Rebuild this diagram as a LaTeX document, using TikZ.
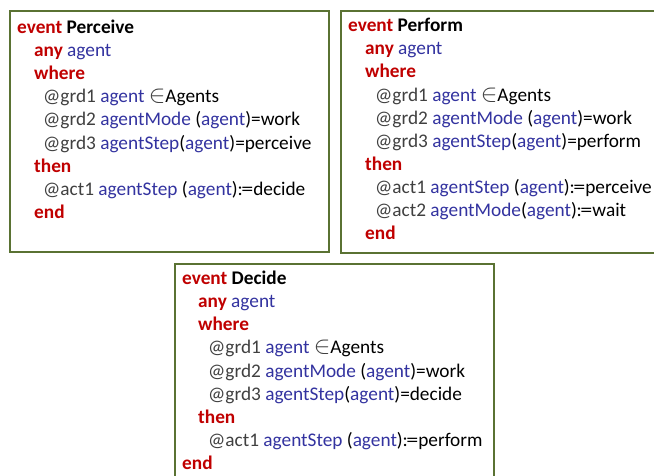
\documentclass[tikz,border=0pt]{standalone}
\usepackage{fontspec}
\setmainfont{Carlito}
\definecolor{kwred}{HTML}{C00000}
\definecolor{idblue}{HTML}{3333A0}
\definecolor{lblgray}{HTML}{404040}
\definecolor{frame}{HTML}{5A7233}
\newcommand\kw[1]{\textcolor{kwred}{\textbf{#1}}}
\newcommand\idn[1]{\textcolor{idblue}{#1}}
\newcommand\lbl[1]{\textcolor{lblgray}{#1}}
\newcommand\setin{\textcolor{lblgray}{\fontsize{23}{23}\selectfont$\in$}}
\newcommand\becomes{\kern-0.3pt:\kern-1.4pt\scalebox{1.25}[1]{=}}
\tikzset{
  evbox/.style={draw=frame, line width=2.4pt, fill=white, inner sep=0pt},
  txt/.style={anchor=base west, inner sep=0pt, font=\fontsize{19.3}{22}\selectfont}
}
\begin{document}
\begin{tikzpicture}[x=1pt,y=-1pt]
\useasboundingbox (0,0) rectangle (654,475);
% event boxes
\node[evbox, minimum width=319pt, minimum height=241pt, anchor=north west] (perceive) at (9,10) {};
\node[evbox, minimum width=320pt, minimum height=242pt, anchor=north west] (perform) at (340,10) {};
\node[evbox, minimum width=319pt, minimum height=230pt, anchor=north west] (decide) at (174,263) {};

% Perceive
\node[txt] (p1) at (17,33)    {\kw{event} \textbf{Perceive}};
\node[txt] (p2) at (34,56.2)  {\kw{any} \idn{agent}};
\node[txt] (p3) at (34,79.4)  {\kw{where}};
\node[txt] (p4) at (43,102.6) {\lbl{@grd1} \idn{agent} \setin Agents};
\node[txt] (p5) at (43,125.8) {\lbl{@grd2} \idn{agentMode} (\idn{agent})=work};
\node[txt] (p6) at (43,149)   {\lbl{@grd3} \idn{agentStep}(\idn{agent})=perceive};
\node[txt] (p7) at (34,172.2) {\kw{then}};
\node[txt] (p8) at (43,195.4) {\lbl{@act1} \idn{agentStep} (\idn{agent})\becomes decide};
\node[txt] (p9) at (34,218.6) {\kw{end}};

% Perform
\node[txt] (f1) at (348,31.7)  {\kw{event} \textbf{Perform}};
\node[txt] (f2) at (365,54.8)  {\kw{any} \idn{agent}};
\node[txt] (f3) at (365,77.9)  {\kw{where}};
\node[txt] (f4) at (375,101)   {\lbl{@grd1} \idn{agent} \setin Agents};
\node[txt] (f5) at (375,124.1) {\lbl{@grd2} \idn{agentMode} (\idn{agent})=work};
\node[txt] (f6) at (375,147.2) {\lbl{@grd3} \idn{agentStep}(\idn{agent})=perform};
\node[txt] (f7) at (365,170.3) {\kw{then}};
\node[txt] (f8) at (375,193.4) {\lbl{@act1} \idn{agentStep} (\idn{agent})\becomes perceive};
\node[txt] (f9) at (375,216.5) {\lbl{@act2} \idn{agentMode}(\idn{agent})\becomes wait};
\node[txt] (f10) at (365,239.6) {\kw{end}};

% Decide
\node[txt] (d1) at (182,284.3) {\kw{event} \textbf{Decide}};
\node[txt] (d2) at (198,307.5) {\kw{any} \idn{agent}};
\node[txt] (d3) at (198,330.7) {\kw{where}};
\node[txt] (d4) at (208,353.9) {\lbl{@grd1} \idn{agent} \setin Agents};
\node[txt] (d5) at (208,377.1) {\lbl{@grd2} \idn{agentMode} (\idn{agent})=work};
\node[txt] (d6) at (208,400.3) {\lbl{@grd3} \idn{agentStep}(\idn{agent})=decide};
\node[txt] (d7) at (198,423.5) {\kw{then}};
\node[txt] (d8) at (208,446.7) {\lbl{@act1} \idn{agentStep} (\idn{agent})\becomes perform};
\node[txt] (d9) at (182,469.9) {\kw{end}};
\end{tikzpicture}
\end{document}
